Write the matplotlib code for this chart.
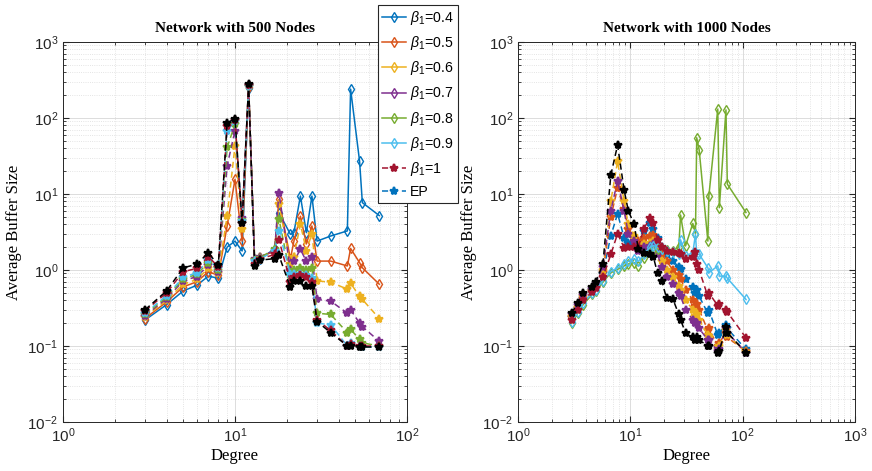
import matplotlib
matplotlib.use('Agg')
import matplotlib.pyplot as plt
from matplotlib.lines import Line2D

plt.rcParams['font.family'] = ['Liberation Sans', 'DejaVu Sans']
plt.rcParams['mathtext.fontset'] = 'custom'
plt.rcParams['mathtext.rm'] = 'Liberation Sans'
plt.rcParams['mathtext.it'] = 'Liberation Sans:italic'
plt.rcParams['mathtext.bf'] = 'Liberation Sans:bold'

# ---------------- data: network with 500 nodes ----------------
L_deg = [3, 4, 5, 6, 7, 8, 9, 10, 11, 12, 13, 14, 17, 18, 21, 22, 24, 26, 28, 30, 36, 45, 47, 53, 55, 69]
L_b04 = [0.22, 0.35, 0.53, 0.63, 0.83, 0.78, 2.0, 2.4, 1.78, 250, 1.3, 1.4, 1.9, 5.7, 2.95, 3.1, 9.4, 3.1, 9.4, 2.4, 2.8, 3.27, 240, 27, 7.7, 5.2]
L_b05 = [0.23, 0.38, 0.6, 0.7, 0.95, 0.85, 3.8, 15.6, 2.4, 255, 1.35, 1.45, 1.8, 8.5, 1.4, 2.4, 5.1, 2.2, 3.8, 1.31, 1.31, 1.13, 1.92, 1.25, 1.07, 0.65]
L_b06 = [0.24, 0.40, 0.65, 0.75, 1.05, 0.9, 5.1, 43, 3.5, 262, 1.4, 1.5, 1.75, 7.3, 1.2, 1.5, 4.0, 1.8, 3.0, 0.72, 0.69, 0.56, 0.67, 0.45, 0.41, 0.23]
L_b07 = [0.25, 0.42, 0.72, 0.82, 1.15, 0.95, 23.5, 68, 4.8, 268, 1.4, 1.5, 1.8, 10.4, 1.0, 1.3, 1.87, 1.3, 1.5, 0.41, 0.39, 0.27, 0.30, 0.2, 0.18, 0.115]
L_b08 = [0.26, 0.44, 0.76, 0.88, 1.25, 1.0, 41, 83, 4.6, 265, 1.35, 1.45, 1.9, 4.7, 0.85, 1.0, 1.07, 1.0, 1.07, 0.27, 0.26, 0.15, 0.166, 0.122, 0.11, 0.10]
L_b09 = [0.27, 0.46, 0.8, 0.92, 1.35, 1.05, 68, 90, 4.4, 260, 1.3, 1.4, 1.78, 3.3, 0.88, 0.88, 0.88, 0.85, 0.79, 0.20, 0.19, 0.10, 0.11, 0.10, 0.098, 0.097]
L_b10 = [0.29, 0.5, 0.95, 1.05, 1.5, 1.1, 78, 93, 4.2, 272, 1.2, 1.4, 1.6, 2.5, 0.7, 0.8, 0.85, 0.8, 0.7, 0.22, 0.16, 0.10, 0.105, 0.10, 0.10, 0.10]
L_EP = [0.30, 0.53, 1.07, 1.19, 1.69, 1.15, 87, 97, 4.1, 280, 1.13, 1.35, 1.41, 1.56, 0.59, 0.72, 0.72, 0.61, 0.61, 0.21, 0.15, 0.10, 0.10, 0.097, 0.097, 0.097]

# ---------------- data: network with 1000 nodes ----------------
R_deg = [3, 3.4, 3.8, 4.6, 4.9, 5.7, 6.7, 7.7, 8.8, 9.6, 10.8, 11.8, 13.2, 15, 16, 17.5, 19, 21, 24, 27, 28, 31, 36, 38, 39, 41, 49, 50, 60, 62, 71, 73, 107]
R_b04 = [0.24, 0.32, 0.43, 0.54, 0.6, 0.9, 2.8, 5.5, 2.67, 2.3, 2.3, 2.2, 3.3, 4.2, 3.5, 2.6, 2.0, 1.6, 1.3, 1.1, 1.02, 0.76, 0.6, 0.5, 0.55, 0.45, 0.27, 0.3, 0.14, 0.15, 0.19, 0.17, 0.09]
R_b05 = [0.24, 0.32, 0.43, 0.53, 0.6, 0.95, 5, 12, 6.3, 3.5, 2.6, 2.4, 2.6, 2.8, 2.9, 2.1, 1.6, 1.3, 1.0, 0.85, 0.76, 0.55, 0.4, 0.34, 0.36, 0.3, 0.16, 0.17, 0.1, 0.11, 0.15, 0.13, 0.085]
R_b06 = [0.25, 0.33, 0.45, 0.55, 0.63, 1.0, 8, 27, 8, 4, 2.8, 1.9, 2.2, 2.3, 2.4, 1.8, 1.3, 1.0, 0.8, 0.62, 0.55, 0.4, 0.3, 0.25, 0.26, 0.22, 0.14, 0.13, 0.09, 0.1, 0.16, 0.14, 0.083]
R_b07 = [0.26, 0.35, 0.47, 0.57, 0.66, 1.1, 6, 15, 6, 3, 2.4, 1.8, 2.0, 2.1, 2.2, 1.6, 1.1, 0.8, 0.65, 0.5, 0.45, 0.3, 0.22, 0.2, 0.2, 0.17, 0.12, 0.12, 0.085, 0.09, 0.17, 0.15, 0.082]
R_b08 = [0.2, 0.27, 0.35, 0.48, 0.53, 0.69, 0.92, 1.02, 1.13, 1.2, 1.25, 1.13, 1.46, 1.7, 1.8, 1.87, 1.9, 1.85, 1.8, 2.0, 5.3, 2.07, 4.1, 3.0, 55, 38, 2.4, 9.4, 131, 6.6, 128, 13.5, 5.7]
R_b09 = [0.21, 0.28, 0.37, 0.5, 0.55, 0.72, 0.95, 1.07, 1.2, 1.3, 1.4, 1.3, 1.6, 2.0, 2.1, 2.0, 1.9, 1.8, 1.7, 1.6, 2.5, 1.53, 1.69, 2.95, 1.6, 1.61, 1.07, 0.92, 1.13, 0.83, 0.83, 0.78, 0.41]
R_b10 = [0.22, 0.3, 0.4, 0.52, 0.58, 0.8, 1.6, 3.0, 1.97, 2.0, 2.0, 2.0, 3.5, 4.9, 4.2, 2.5, 2.0, 1.8, 1.7, 1.65, 1.61, 1.4, 1.5, 1.7, 1.19, 1.0, 0.45, 0.5, 0.34, 0.36, 0.30, 0.28, 0.128]
R_EP = [0.27, 0.37, 0.50, 0.59, 0.69, 1.19, 17.7, 44, 11.3, 6, 4.0, 1.87, 1.69, 1.61, 1.5, 0.9, 0.72, 0.43, 0.41, 0.26, 0.22, 0.15, 0.13, 0.12, 0.13, 0.12, 0.1, 0.1, 0.082, 0.085, 0.18, 0.15, 0.082]

legend_labels = [r'$\beta_1$=0.4', r'$\beta_1$=0.5', r'$\beta_1$=0.6', r'$\beta_1$=0.7',
                 r'$\beta_1$=0.8', r'$\beta_1$=0.9', r'$\beta_1$=1', 'EP']
colors = ['#0072BD', '#D95319', '#EDB120', '#7E2F8E', '#77AC30', '#4DBEEE', '#A2142F', '#0072BD']

DIAMOND = dict(ls='-', marker='d', mfc='none', ms=5, mew=1.0, lw=1.1)
STAR = dict(ls=(0, (4, 2.5)), marker='*', ms=6, mew=1.6, lw=1.1)

def make_axes(fig, rect, xmax, title, xs, series, styles, cols):
    ax = fig.add_axes(rect)
    for ys, st, c in zip(series, styles, cols):
        kw = DIAMOND if st == 'solid' else STAR
        ax.plot(xs, ys, color=c, mec=c, **kw)
    ax.set_xscale('log')
    ax.set_yscale('log')
    ax.set_xlim(1, xmax)
    ax.set_ylim(1e-2, 1e3)
    ax.grid(True, which='major', color='#dcdcdc', lw=0.7, ls='-')
    ax.grid(True, which='minor', color='#dcdcdc', lw=0.6, ls=':')
    ax.set_axisbelow(True)
    ax.tick_params(which='both', direction='in', top=True, right=True,
                   colors='#262626', labelsize=11)
    ax.tick_params(which='major', length=4)
    ax.tick_params(which='minor', length=2)
    for s in ax.spines.values():
        s.set_color('#262626')
        s.set_linewidth(0.7)
    ax.set_title(title, fontfamily='Liberation Serif', fontweight='bold', fontsize=11, pad=7)
    ax.set_xlabel('Degree', fontfamily='Liberation Serif', fontsize=12, labelpad=2)
    ax.set_ylabel('Average Buffer Size', fontfamily='Liberation Serif', fontsize=12, labelpad=4)
    return ax

fig = plt.figure(figsize=(8.72, 4.71), dpi=100)

W, H = 872.0, 471.0
left_rect = [63 / W, 1 - 422 / H, (407 - 63) / W, (422 - 42) / H]
right_rect = [518 / W, 1 - 422 / H, (855 - 518) / W, (422 - 42) / H]

left_series = [L_b04, L_b05, L_b06, L_b07, L_b08, L_b09, L_b10, L_EP]
left_styles = ['solid', 'solid', 'dash', 'dash', 'dash', 'dash', 'dash', 'dash']
left_cols = colors[:7] + ['black']
make_axes(fig, left_rect, 100, 'Network with 500 Nodes', L_deg, left_series, left_styles, left_cols)

right_series = [R_b04, R_b05, R_b06, R_b07, R_b08, R_b09, R_b10, R_EP]
right_styles = ['dash', 'dash', 'dash', 'dash', 'solid', 'solid', 'dash', 'dash']
right_cols = colors[:7] + ['black']
make_axes(fig, right_rect, 1000, 'Network with 1000 Nodes', R_deg, right_series, right_styles, right_cols)

# legend (styles as shown in the reference legend)
handles = []
for i, c in enumerate(colors):
    kw = DIAMOND if i < 6 else STAR
    handles.append(Line2D([], [], color=c, mec=c, **kw))
leg = fig.legend(handles, legend_labels, loc='upper left',
                 bbox_to_anchor=(378 / W, 1 - 5 / H), fontsize=10.2,
                 frameon=True, fancybox=False, framealpha=1, edgecolor='#262626',
                 handlelength=1.65, handletextpad=0.3, labelspacing=0.5,
                 borderpad=0.3, borderaxespad=0)
leg.get_frame().set_linewidth(0.8)

fig.savefig('out.png', dpi=100)
